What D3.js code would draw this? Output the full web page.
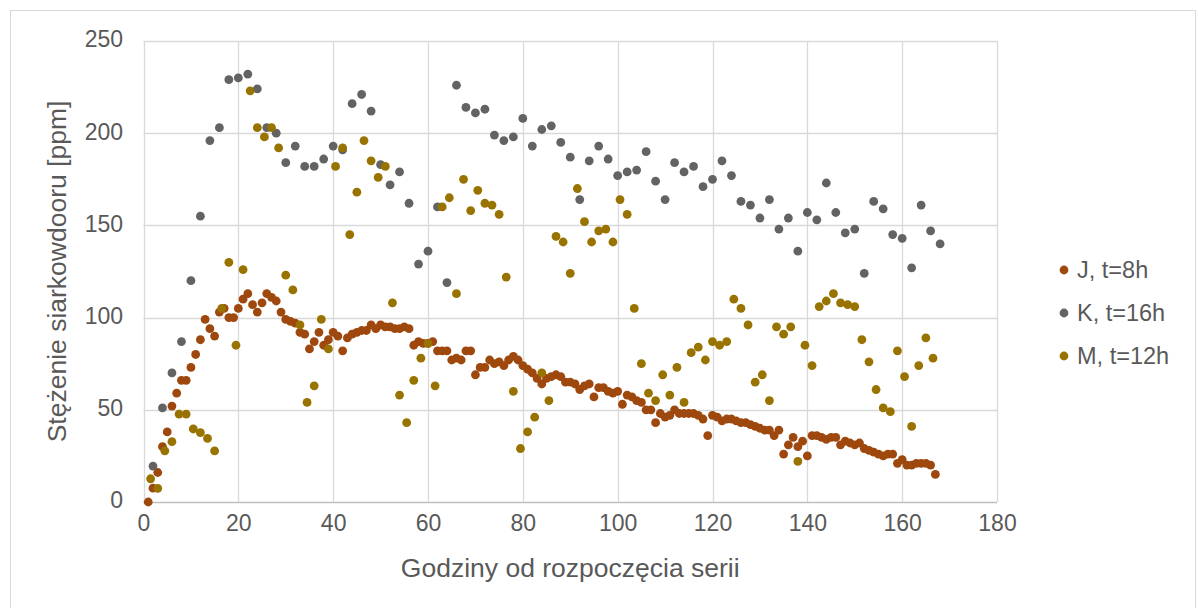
<!DOCTYPE html>
<html><head><meta charset="utf-8">
<script src="https://cdn.jsdelivr.net/npm/d3@7"></script>
<style>
html,body{margin:0;padding:0;background:#fff;}
svg{display:block;font-family:"Liberation Sans",Arial,sans-serif;}
</style></head>
<body>
<script>
// ---- data ----
const seriesNames = ["J, t=8h", "K, t=16h", "M, t=12h"];
const seriesColors = ["#9E480E", "#636363", "#997300"];

const jHours = d3.range(1, 168);
const jValues = [0,7.5,16,30,38,52,59,66,66,73,80,88,99,94,90,103,105,100,100,105,110,113,107,103,108,113,111,109,103,99,98,97,92,91,83,87,92,85,88,92,90,82,89,91,92,93,93,96,94,96,95,95,94,94,95,94,85,87,86,86,87,82,82,82,77,78,77,82,82,69,73,73,77,75,76,74,77,79,77,74,72,70,67,64,67,68,69,68,65,65,64,61,63,64,57,62,62,60,59,60,53,58,57,55,54,50,50,43,48,46,47,50,48,48,48,48,47,45,36,47,46,44,45,45,44,43,43,42,41,40,39,39,36,39,26,31,35,30,33,25,36,36,35,34,35,35,31,33,32,31,32,29,28,27,26,25,26,26,21,23,20,20,21,21,21,20,15];

const kHours = d3.range(2, 169, 2);
const kValues = [19.5,51,70,87,120,155,196,203,229,230,232,224,203,200,184,193,182,182,186,193,191,216,221,212,183,172,179,162,129,136,160,119,226,214,211,213,199,196,198,208,193,202,204,195,187,164,185,193,186,177,179,180,190,174,164,184,179,182,171,175,185,177,163,161,154,164,148,154,136,157,153,173,157,146,148,124,163,159,145,143,127,161,147,140];

const mHours = d3.range(1, 112).map(i => i * 1.5);
const mValues = [12.6,7.4,27.7,32.7,47.7,47.7,39.6,37.6,34.5,27.7,105,130,85,126,223,203,198,203,192,123,115,96,54,63,99,83,182,192,145,168,196,185,176,182,108,58,43,66,78,86,63,160,165,113,175,158,169,162,161,156,122,60,29,38,46,70,55,144,141,124,170,152,141,147,148,141,164,156,105,75,59,55,69,58,73,54,81,84,77,87,85,87,110,105,96,65,69,55,95,91,95,22,85,74,106,109,113,108,107,106,88,76,61,51,49,82,68,41,74,89,78];

const xTicks = d3.range(0, 181, 20);
const yTicks = d3.range(0, 251, 50);
const xTitle = "Godziny od rozpoczęcia serii";
const yTitle = "Stężenie siarkowdooru [ppm]";

// ---- chart ----
const W = 1198, H = 608;
const svg = d3.select("body").append("svg").attr("width", W).attr("height", H);

svg.append("rect").attr("x", 10.5).attr("y", 10.5).attr("width", 1185).attr("height", 610)
  .attr("fill", "#fff").attr("stroke", "#D9D9D9").attr("stroke-width", 1);

const x = d3.scaleLinear().domain([0, 180]).range([143.5, 997]);
const y = d3.scaleLinear().domain([0, 250]).range([502, 41]);

const grid = svg.append("g");
grid.selectAll("line.h").data(yTicks.filter(v => v > 0)).join("line")
  .attr("x1", x(0)).attr("x2", x(180)).attr("y1", d => Math.round(y(d)) + 0.5).attr("y2", d => Math.round(y(d)) + 0.5)
  .attr("stroke", "#D9D9D9").attr("stroke-width", 1.3);
grid.selectAll("line.v").data(xTicks).join("line")
  .attr("x1", d => Math.round(x(d)) + 0.5).attr("x2", d => Math.round(x(d)) + 0.5).attr("y1", y(250)).attr("y2", y(0))
  .attr("stroke", "#D9D9D9").attr("stroke-width", 1.3);
svg.append("line").attr("x1", x(0)).attr("x2", x(180)).attr("y1", y(0) + 0.5).attr("y2", y(0) + 0.5)
  .attr("stroke", "#BFBFBF").attr("stroke-width", 1.5);

const xAxis = svg.append("g").attr("transform", `translate(0,${y(0)})`)
  .call(d3.axisBottom(x).tickValues(xTicks).tickSize(0).tickPadding(29).tickFormat(d3.format("d")));
xAxis.select(".domain").remove();
xAxis.selectAll("text").attr("font-size", 23).attr("fill", "#595959").attr("font-family", "Liberation Sans, Arial, sans-serif").attr("dy", 0);

const yAxis = svg.append("g").attr("transform", `translate(123,0)`)
  .call(d3.axisLeft(y).tickValues(yTicks).tickSize(0).tickPadding(0).tickFormat(d3.format("d")));
yAxis.select(".domain").remove();
yAxis.selectAll("text").attr("font-size", 23).attr("fill", "#595959").attr("font-family", "Liberation Sans, Arial, sans-serif").attr("dy", "0.26em");

svg.append("text").attr("x", (x(0) + x(180)) / 2).attr("y", 577).attr("text-anchor", "middle")
  .attr("font-size", 26.5).attr("fill", "#595959").text(xTitle);
svg.append("text").attr("transform", `translate(66,${(y(0) + y(250)) / 2}) rotate(-90)`).attr("text-anchor", "middle")
  .attr("font-size", 26.5).attr("fill", "#595959").text(yTitle);

const series = [
  {hours: jHours, values: jValues},
  {hours: kHours, values: kValues},
  {hours: mHours, values: mValues}
];
series.forEach((s, i) => {
  svg.append("g").selectAll("circle").data(s.hours.map((h, k) => [h, s.values[k]])).join("circle")
    .attr("cx", d => x(d[0])).attr("cy", d => y(d[1])).attr("r", 4.4)
    .attr("fill", seriesColors[i]);
});

const legend = svg.append("g");
seriesNames.forEach((name, i) => {
  const ly = 270 + i * 43;
  legend.append("circle").attr("cx", 1064).attr("cy", ly).attr("r", 4.4).attr("fill", seriesColors[i]);
  legend.append("text").attr("x", 1077).attr("y", ly).attr("dy", "0.35em").attr("font-size", 23.5)
    .attr("fill", "#595959").text(name);
});
</script>
</body></html>
